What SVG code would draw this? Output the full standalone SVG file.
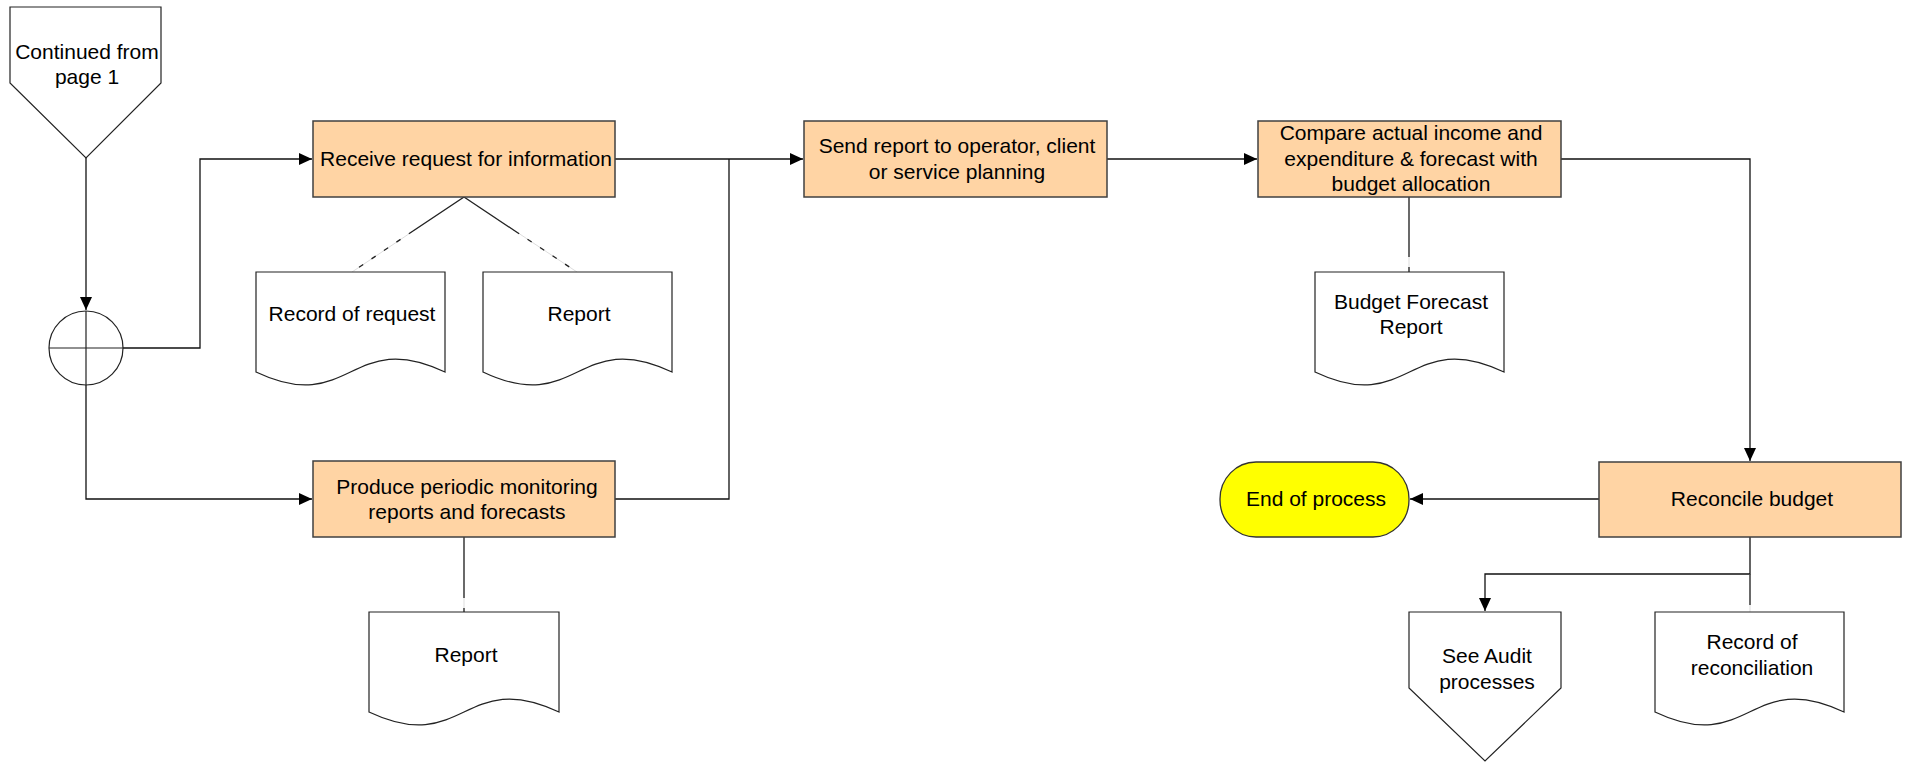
<svg xmlns="http://www.w3.org/2000/svg" width="1907" height="762" viewBox="0 0 1907 762">
<defs>
<marker id="arr" markerUnits="userSpaceOnUse" markerWidth="14" markerHeight="14" refX="13" refY="6" orient="auto">
<path d="M0,0 L13,6 L0,12 Z" fill="#000"/>
</marker>
<style>
.box{fill:#FFD4A4;stroke:#404040;stroke-width:1.5}
.doc{fill:#fff;stroke:#222;stroke-width:1.2}
.t{font-family:"Liberation Sans",Arial,sans-serif;font-size:21px;fill:#000;text-anchor:middle}
.c{fill:none;stroke:#111;stroke-width:1.3}
.ls{fill:none;stroke:#222;stroke-width:1.3}
.ld{fill:none;stroke:#222;stroke-width:1.3;stroke-dasharray:5 10}
.lg{fill:none;stroke:#ddd;stroke-width:1}
</style>
</defs>
<rect width="1907" height="762" fill="#fff"/>

<g id="connectors">
<path class="c" d="M86,158 V310" marker-end="url(#arr)"/>
<path class="c" d="M123,348 H200 V159 H312" marker-end="url(#arr)"/>
<path class="c" d="M86,385 V499 H312" marker-end="url(#arr)"/>
<path class="c" d="M615,159 H803" marker-end="url(#arr)"/>
<path class="c" d="M615,499 H729 V159"/>
<path class="c" d="M1107,159 H1257" marker-end="url(#arr)"/>
<path class="c" d="M1561,159 H1750 V461" marker-end="url(#arr)"/>
<path class="c" d="M1599,499 H1410" marker-end="url(#arr)"/>
<path class="c" d="M1750,537 V574 H1485 V611" marker-end="url(#arr)"/>
<!-- association links -->
<path class="lg" d="M464,197 L352,272"/>
<path class="ls" d="M464,197 L413,231"/>
<path class="ld" d="M413,231 L352,272"/>
<path class="lg" d="M464,197 L577,272"/>
<path class="ls" d="M464,197 L515,231"/>
<path class="ld" d="M515,231 L577,272"/>
<path class="lg" d="M464,537 V612"/>
<path class="ls" d="M464,537 V593"/>
<path class="ld" d="M464,593 V612"/>
<path class="lg" d="M1409,197 V272"/>
<path class="ls" d="M1409,197 V252"/>
<path class="ld" d="M1409,252 V272"/>
<path class="lg" d="M1750,574 V612"/>
<path class="ls" d="M1750,574 V600"/>
<path class="ld" d="M1750,600 V612"/>
</g>

<g id="continued">
<path class="doc" d="M10,7 H161 V83 L86,158 L10,83 Z"/>
<text class="t" x="87" y="59">Continued from</text>
<text class="t" x="87" y="84">page 1</text>
</g>

<g id="merge">
<ellipse cx="86" cy="348" rx="37" ry="37" fill="#fff" stroke="#222" stroke-width="1.2"/>
<path d="M49,348 H123 M86,311 V385" stroke="#222" stroke-width="1.2" fill="none"/>
</g>

<g id="receive">
<rect class="box" x="313" y="121" width="302" height="76"/>
<text class="t" x="466" y="166">Receive request for information</text>
</g>

<g id="record-request">
<path class="doc" d="M256,272 H445 V372 C350.5,327 350.5,417 256,372 Z"/>
<text class="t" x="352" y="321">Record of request</text>
</g>

<g id="report1">
<path class="doc" d="M483,272 H672 V372 C577.5,327 577.5,417 483,372 Z"/>
<text class="t" x="579" y="321">Report</text>
</g>

<g id="produce">
<rect class="box" x="313" y="461" width="302" height="76"/>
<text class="t" x="467" y="494">Produce periodic monitoring</text>
<text class="t" x="467" y="519">reports and forecasts</text>
</g>

<g id="report2">
<path class="doc" d="M369,612 H559 V712 C464,667 464,757 369,712 Z"/>
<text class="t" x="466" y="662">Report</text>
</g>

<g id="send">
<rect class="box" x="804" y="121" width="303" height="76"/>
<text class="t" x="957" y="153">Send report to operator, client</text>
<text class="t" x="957" y="179">or service planning</text>
</g>

<g id="compare">
<rect class="box" x="1258" y="121" width="303" height="76"/>
<text class="t" x="1411" y="140">Compare actual income and</text>
<text class="t" x="1411" y="166">expenditure &amp; forecast with</text>
<text class="t" x="1411" y="191">budget allocation</text>
</g>

<g id="budget-forecast">
<path class="doc" d="M1315,272 H1504 V372 C1409.5,327 1409.5,417 1315,372 Z"/>
<text class="t" x="1411" y="309">Budget Forecast</text>
<text class="t" x="1411" y="334">Report</text>
</g>

<g id="reconcile">
<rect class="box" x="1599" y="462" width="302" height="75"/>
<text class="t" x="1752" y="506">Reconcile budget</text>
</g>

<g id="end">
<rect x="1220" y="462" width="189" height="75" rx="36" ry="37" fill="#FFFF00" stroke="#333" stroke-width="1.3"/>
<text class="t" x="1316" y="506">End of process</text>
</g>

<g id="audit">
<path class="doc" d="M1409,612 H1561 V688 L1485,761 L1409,688 Z"/>
<text class="t" x="1487" y="663">See Audit</text>
<text class="t" x="1487" y="689">processes</text>
</g>

<g id="record-reconciliation">
<path class="doc" d="M1655,612 H1844 V712 C1749.5,667 1749.5,757 1655,712 Z"/>
<text class="t" x="1752" y="649">Record of</text>
<text class="t" x="1752" y="675">reconciliation</text>
</g>
</svg>
